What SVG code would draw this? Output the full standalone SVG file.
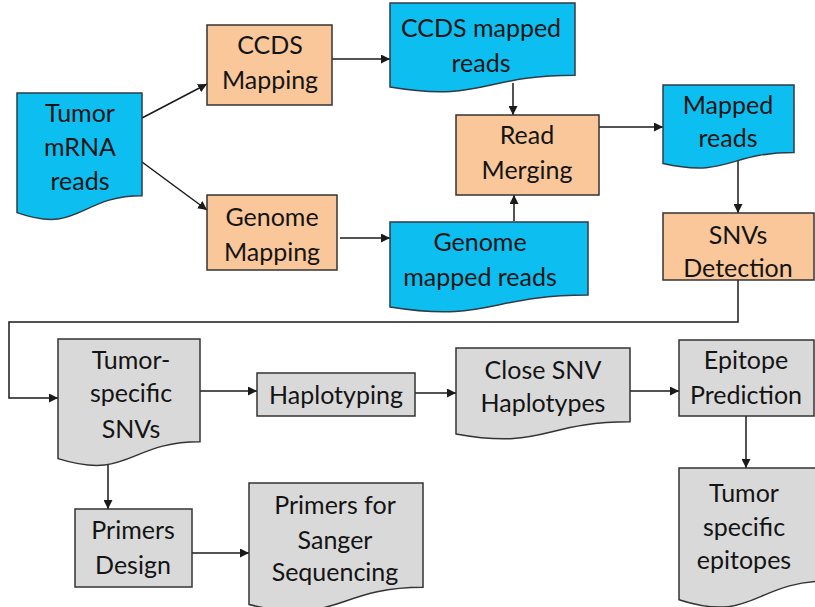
<svg xmlns="http://www.w3.org/2000/svg" width="815" height="607" viewBox="0 0 815 607">
  <defs>
    <marker id="arrow" viewBox="0 0 10 10" refX="10" refY="5" markerWidth="9" markerHeight="9" markerUnits="userSpaceOnUse" orient="auto">
      <path d="M0,0 L10,5 L0,10 Z" fill="#1a1a1a"/>
    </marker>
    <style>
      .data { fill: #0cbff0; stroke: #2f3b45; stroke-width: 1.5; }
      .proc { fill: #f9c79a; stroke: #333333; stroke-width: 1.5; }
      .grey { fill: #d9d9d9; stroke: #333333; stroke-width: 1.5; }
      .lbl { font-family: Lato, "Liberation Sans", sans-serif; font-size: 25px; fill: #141414; text-anchor: middle; }
      .edge { fill: none; stroke: #1a1a1a; stroke-width: 1.5; marker-end: url(#arrow); }
    </style>
  </defs>

  <rect width="815" height="607" fill="#ffffff"/>

  <!-- connectors -->
  <g id="connectors">
    <path class="edge" d="M142,118 L207,84"/>
    <path class="edge" d="M142,162 L207,210"/>
    <path class="edge" d="M332,59 L390,59"/>
    <path class="edge" d="M340,238 L390,238"/>
    <path class="edge" d="M513,83 L513,115"/>
    <path class="edge" d="M514,221 L514,195"/>
    <path class="edge" d="M599,127 L663,127"/>
    <path class="edge" d="M738,155 L738,213"/>
    <path class="edge" d="M738,280 L738,322 L9,322 L9,398 L58,398"/>
    <path class="edge" d="M200,391 L257,391"/>
    <path class="edge" d="M415,393 L456,393"/>
    <path class="edge" d="M630,391 L679,391"/>
    <path class="edge" d="M746,416 L746,468"/>
    <path class="edge" d="M108,455 L108,509"/>
    <path class="edge" d="M192,553 L249,553"/>
  </g>

  <g id="tumor-mrna-reads">
    <path class="data" d="M17,93 H142 V195.7 C79.5,195.7 79.5,234.8 17,212.6 Z"/>
    <text class="lbl" x="80" y="122">Tumor</text>
    <text class="lbl" x="80" y="156">mRNA</text>
    <text class="lbl" x="80" y="190">reads</text>
  </g>

  <g id="ccds-mapping">
    <rect class="proc" x="207" y="25" width="125" height="80"/>
    <text class="lbl" x="270" y="54">CCDS</text>
    <text class="lbl" x="270" y="89">Mapping</text>
  </g>

  <g id="ccds-mapped-reads">
    <path class="data" d="M390,3 H575 V75.2 C482.5,75.2 482.5,102.7 390,87.1 Z"/>
    <text class="lbl" x="481" y="37">CCDS mapped</text>
    <text class="lbl" x="481" y="72">reads</text>
  </g>

  <g id="genome-mapping">
    <rect class="proc" x="207" y="195" width="130" height="75"/>
    <text class="lbl" x="272" y="226">Genome</text>
    <text class="lbl" x="272" y="261">Mapping</text>
  </g>

  <g id="genome-mapped-reads">
    <path class="data" d="M390,222 H588 V295 C489,295 489,322.8 390,307 Z"/>
    <text class="lbl" x="480" y="251">Genome</text>
    <text class="lbl" x="480" y="286">mapped reads</text>
  </g>

  <g id="read-merging">
    <rect class="proc" x="456" y="115" width="143" height="80"/>
    <text class="lbl" x="527" y="144">Read</text>
    <text class="lbl" x="527" y="179">Merging</text>
  </g>

  <g id="mapped-reads">
    <path class="data" d="M663,85 H794 V152.4 C728.5,152.4 728.5,178 663,163.5 Z"/>
    <text class="lbl" x="728" y="114">Mapped</text>
    <text class="lbl" x="728" y="147">reads</text>
  </g>

  <g id="snvs-detection">
    <rect class="proc" x="663" y="213" width="151" height="67"/>
    <text class="lbl" x="738" y="244">SNVs</text>
    <text class="lbl" x="738" y="277">Detection</text>
  </g>

  <g id="tumor-specific-snvs">
    <path class="grey" d="M58,339 H200 V441.7 C129,441.7 129,480.8 58,458.6 Z"/>
    <text class="lbl" x="131" y="369">Tumor-</text>
    <text class="lbl" x="131" y="402">specific</text>
    <text class="lbl" x="131" y="438">SNVs</text>
  </g>

  <g id="haplotyping">
    <rect class="grey" x="257" y="373" width="158" height="43"/>
    <text class="lbl" x="336" y="404">Haplotyping</text>
  </g>

  <g id="close-snv-haplotypes">
    <path class="grey" d="M456,348 H630 V421.8 C543,421.8 543,449.9 456,433.9 Z"/>
    <text class="lbl" x="543" y="379">Close SNV</text>
    <text class="lbl" x="543" y="412">Haplotypes</text>
  </g>

  <g id="epitope-prediction">
    <rect class="grey" x="679" y="340" width="135" height="76"/>
    <text class="lbl" x="746" y="369">Epitope</text>
    <text class="lbl" x="746" y="404">Prediction</text>
  </g>

  <g id="tumor-specific-epitopes">
    <path class="grey" d="M679,468 H829 V581 C754,581 754,624 679,599.7 Z"/>
    <text class="lbl" x="744" y="502">Tumor</text>
    <text class="lbl" x="744" y="536">specific</text>
    <text class="lbl" x="744" y="569">epitopes</text>
  </g>

  <g id="primers-design">
    <rect class="grey" x="75" y="509" width="117" height="78"/>
    <text class="lbl" x="133" y="539">Primers</text>
    <text class="lbl" x="133" y="574">Design</text>
  </g>

  <g id="primers-for-sanger">
    <path class="grey" d="M249,483 H423 V587.3 C336,587.3 336,627 249,604.4 Z"/>
    <text class="lbl" x="335" y="514">Primers for</text>
    <text class="lbl" x="335" y="549">Sanger</text>
    <text class="lbl" x="335" y="581">Sequencing</text>
  </g>
</svg>
